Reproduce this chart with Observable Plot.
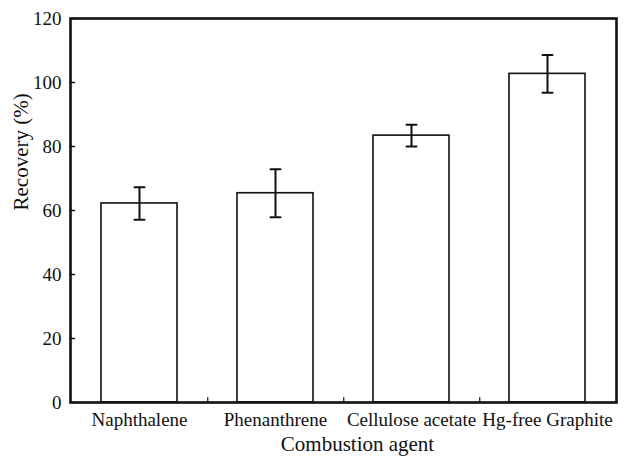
<!DOCTYPE html>
<html>
<head>
<meta charset="utf-8">
<script src="https://cdn.jsdelivr.net/npm/d3@7"></script>
<script src="https://cdn.jsdelivr.net/npm/@observablehq/plot@0.6"></script>
<style>
  html, body { margin: 0; padding: 0; background: #fff; }
</style>
</head>
<body>
<div id="chart"></div>
<script>
const categories = ["Naphthalene", "Phenanthrene", "Cellulose acetate", "Hg-free Graphite"];
const recovery = [62.2, 65.4, 83.4, 102.7];
const errors = [5.1, 7.5, 3.4, 5.9];
const yTicks = [0, 20, 40, 60, 80, 100, 120];

const data = categories.map((c, i) => ({name: c, value: recovery[i], lo: recovery[i] - errors[i], hi: recovery[i] + errors[i]}));

const W = 625, H = 456;
const mL = 70, mR = 9, mT = 18, mB = 54;
const step = (W - mL - mR) / categories.length;

const lineShape = {draw(context, l) { context.moveTo(0, 0); context.lineTo(0, -l); }};
const capShape = {draw(context, l) { context.moveTo(0, l / 2); context.lineTo(0, -l / 2); }};
const ink = "#111";

const plot = Plot.plot({
  width: W,
  height: H,
  marginLeft: mL,
  marginRight: mR,
  marginTop: mT,
  marginBottom: mB,
  style: {fontFamily: "'Liberation Serif', 'Times New Roman', serif", fontSize: "19px", color: ink, background: "#fff"},
  x: {domain: categories, paddingInner: 0.44, paddingOuter: 0.22},
  y: {domain: [0, 120]},
  marks: [
    Plot.barY(data, {x: "name", y: "value", fill: "white", stroke: ink, strokeWidth: 1.6}),
    Plot.ruleX(data, {x: "name", y1: "lo", y2: "hi", stroke: ink, strokeWidth: 2}),
    Plot.vector(data, {x: "name", y: "lo", rotate: 90, length: 10, anchor: "start", shape: capShape, stroke: ink, strokeWidth: 2}),
    Plot.vector(data, {x: "name", y: "hi", rotate: 90, length: 10, anchor: "start", shape: capShape, stroke: ink, strokeWidth: 2}),
    Plot.vector(yTicks, {y: d => d, frameAnchor: "left", rotate: 90, length: 4, anchor: "start", shape: lineShape, stroke: ink, strokeWidth: 1.5}),
    Plot.vector(categories.slice(0, -1), {x: d => d, dx: step / 2, frameAnchor: "bottom", rotate: 0, length: 5, anchor: "start", shape: lineShape, stroke: ink, strokeWidth: 1.2}),
    Plot.frame({stroke: ink, strokeWidth: 2.6}),
    Plot.axisY({ticks: yTicks, tickSize: 0, tickPadding: 9, label: null, fontSize: 19, fontFamily: "Liberation Serif"}),
    Plot.axisX({tickSize: 0, tickPadding: 10, label: null, fontSize: 19, fontFamily: "Liberation Serif"}),
    Plot.text(["Combustion agent"], {frameAnchor: "bottom", dx: 14, dy: 48, lineAnchor: "bottom", fontSize: 21, fontFamily: "Liberation Serif", fill: ink}),
    Plot.text(["Recovery (%)"], {frameAnchor: "left", dx: -43, rotate: -90, lineAnchor: "bottom", fontSize: 21, fontFamily: "Liberation Serif", fill: ink})
  ]
});
document.getElementById("chart").appendChild(plot);
</script>
</body>
</html>
